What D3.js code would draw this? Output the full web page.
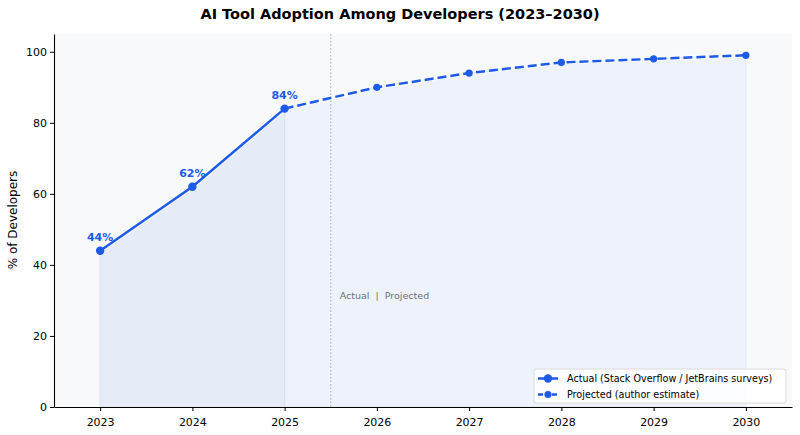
<!DOCTYPE html>
<html><head><meta charset="utf-8">
<script src="https://cdn.jsdelivr.net/npm/d3@7"></script>
<style>body{margin:0;background:#fff;}svg{display:block;font-family:"DejaVu Sans",sans-serif;}</style>
</head><body>
<svg id="c" width="800" height="435"></svg>
<script>
const actualYears = [2023, 2024, 2025];
const actualValues = [44, 62, 84];
const projYears = [2025, 2026, 2027, 2028, 2029, 2030];
const projValues = [84, 90, 94, 97, 98, 99];
const xTicks = [2023, 2024, 2025, 2026, 2027, 2028, 2029, 2030];
const yTicks = [0, 20, 40, 60, 80, 100];
const dividerYear = 2025.5;

const svg = d3.select("#c");
const L = 54, R = 792, T = 34, B = 407;
const x = d3.scaleLinear().domain([2022.5, 2030.5]).range([L, R]);
const y = d3.scaleLinear().domain([0, 105]).range([B, T]);
const blue = "#1d5ae6";

svg.append("rect").attr("x", L).attr("y", T).attr("width", R - L).attr("height", B - T).attr("fill", "#f8f9fb");

const act = actualYears.map((d, i) => [d, actualValues[i]]);
const proj = projYears.map((d, i) => [d, projValues[i]]);
const area = d3.area().x(d => x(d[0])).y0(y(0)).y1(d => y(d[1]));
svg.append("path").attr("d", area(proj)).attr("fill", "#eef2fa").attr("stroke", "#dfe6f5").attr("stroke-width", 1);
svg.append("path").attr("d", area(act)).attr("fill", "#e5ecf8").attr("stroke", "#d6e0f4").attr("stroke-width", 1);

svg.append("line").attr("x1", x(dividerYear)).attr("x2", x(dividerYear)).attr("y1", T).attr("y2", B)
  .attr("stroke", "#a9adb5").attr("stroke-width", 1).attr("stroke-dasharray", "1.5,2");
svg.append("text").attr("x", x(dividerYear) + 9).attr("y", 299).attr("font-size", 9.5).attr("fill", "#6b7280")
  .style("white-space", "pre").attr("xml:space", "preserve")
  .text("Actual  |  Projected");

const line = d3.line().x(d => x(d[0])).y(d => y(d[1]));
svg.append("path").attr("d", line(proj)).attr("fill", "none").attr("stroke", "#fff").attr("stroke-width", 4.5).attr("stroke-dasharray", "10,5").attr("opacity", 0.7);
svg.append("path").attr("d", line(act)).attr("fill", "none").attr("stroke", "#fff").attr("stroke-width", 4.5).attr("opacity", 0.7);
svg.append("path").attr("d", line(proj)).attr("fill", "none").attr("stroke", blue).attr("stroke-width", 2.5).attr("stroke-dasharray", "9,4");
svg.append("path").attr("d", line(act)).attr("fill", "none").attr("stroke", blue).attr("stroke-width", 2.5);
svg.selectAll(".pm").data(proj.slice(1)).join("circle").attr("cx", d => x(d[0])).attr("cy", d => y(d[1])).attr("r", 3.6).attr("fill", blue);
svg.selectAll(".am").data(act).join("circle").attr("cx", d => x(d[0])).attr("cy", d => y(d[1])).attr("r", 4.2).attr("fill", blue);
svg.selectAll(".lab").data(act).join("text").attr("x", d => x(d[0])).attr("y", d => y(d[1]) - 10)
  .attr("text-anchor", "middle").attr("font-size", 11).attr("font-weight", "bold").attr("fill", blue).text(d => d[1] + "%");

const xa = svg.append("g").attr("transform", `translate(0,${B})`)
  .call(d3.axisBottom(x).tickValues(xTicks).tickFormat(d3.format("d")).tickSize(4).tickSizeOuter(0));
const ya = svg.append("g").attr("transform", `translate(${L},0)`)
  .call(d3.axisLeft(y).tickValues(yTicks).tickSize(4).tickSizeOuter(0));
[xa, ya].forEach(g => {
  g.select(".domain").attr("stroke", "#000").attr("stroke-width", 1.1);
  g.selectAll("text").attr("font-size", 11).attr("fill", "#000").attr("font-family", "DejaVu Sans");
  g.selectAll("line").attr("stroke", "#000");
});
xa.selectAll("text").attr("dy", "1.05em");

svg.append("text").attr("x", 400).attr("y", 19).attr("text-anchor", "middle").attr("font-size", 14.5).attr("font-weight", "bold")
  .text("AI Tool Adoption Among Developers (2023–2030)");
svg.append("text").attr("transform", "translate(17,220) rotate(-90)").attr("text-anchor", "middle").attr("font-size", 12)
  .text("% of Developers");

// legend
const lg = svg.append("g").attr("transform", "translate(534,369)");
lg.append("rect").attr("width", 252).attr("height", 34).attr("rx", 2.5).attr("fill", "#fff").attr("fill-opacity", 0.8).attr("stroke", "#dcdcdc");
const items = [{t: "Actual (Stack Overflow / JetBrains surveys)", dash: null, r: 4.2}, {t: "Projected (author estimate)", dash: "5,2", r: 3.6}];
items.forEach((it, i) => {
  const yy = 9.5 + i * 16;
  const l = lg.append("line").attr("x1", 4).attr("x2", 24).attr("y1", yy).attr("y2", yy).attr("stroke", blue).attr("stroke-width", 2.5);
  if (it.dash) l.attr("stroke-dasharray", it.dash);
  lg.append("circle").attr("cx", 14).attr("cy", yy).attr("r", it.r).attr("fill", blue);
  lg.append("text").attr("x", 33).attr("y", yy + 3.5).attr("font-size", 9.6).text(it.t);
});
</script>
</body></html>
